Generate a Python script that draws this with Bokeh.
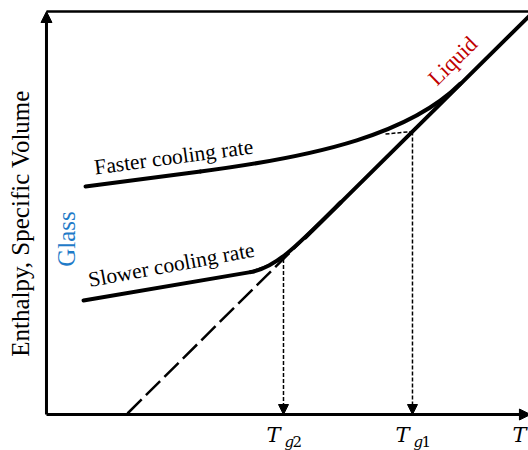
import math
from bokeh.plotting import figure
from bokeh.models import Range1d, Arrow, NormalHead, ColumnDataSource
from bokeh.core.properties import value
from bokeh.embed import file_html
from bokeh.resources import INLINE

# ---- data (arbitrary temperature / enthalpy units) ----
# equilibrium liquid line (dashed = supercooled extrapolation)
liquid_dash_x = [16.8, 56.4]
liquid_dash_y = [0.25, 47.2]
liquid_x = [53.7, 100.5]
liquid_y = [43.9, 99.3]

# faster cooling: glass branch + transition (cubic bezier)
fast_glass_x = [8.1, 31.95]
fast_glass_y = [56.6, 60.3]
fast_bez = dict(x0=[31.95], y0=[60.3], cx0=[56.85], cy0=[64.17],
                cx1=[75.52], cy1=[69.78], x1=[85.89], y1=[82.13])
fast_dot_x = [70.33, 75.93]
fast_dot_y = [69.6, 70.22]

# slower cooling
slow_glass_x = [7.68, 42.32]
slow_glass_y = [28.29, 35.33]
slow_bez = dict(x0=[42.32], y0=[35.33], cx0=[47.51], cy0=[36.38],
                cx1=[51.66], cy1=[41.51], x1=[61.0], y1=[52.61])
slow_dot_x = [42.95, 49.17]
slow_dot_y = [35.73, 38.56]

# glass transition temperatures and their enthalpies
tg_values = [49.17, 75.93]
tg_enthalpy = [38.56, 70.22]
tg_subscripts = ["2", "1"]
axis_end_x = 100.4
axis_top_y = 100.0

# ---- figure ----
p = figure(width=528, height=450, x_range=Range1d(-9.54, 100.0),
           y_range=Range1d(-8.93, 102.73), x_axis_type=None, y_axis_type=None,
           min_border=0, toolbar_location=None, output_backend="svg")
p.outline_line_color = None
p.background_fill_color = "white"

# frame lines
p.line([0, 101], [axis_top_y, axis_top_y], line_color="black", line_width=2.5)
p.add_layout(Arrow(end=NormalHead(size=11, fill_color="black", line_color="black", line_width=1),
                   x_start=0, y_start=0, x_end=0, y_end=axis_top_y,
                   line_color="black", line_width=3))
p.add_layout(Arrow(end=NormalHead(size=11, fill_color="black", line_color="black", line_width=1),
                   x_start=0, y_start=0, x_end=axis_end_x, y_end=0,
                   line_color="black", line_width=3))

# liquid line
p.line(liquid_dash_x, liquid_dash_y, line_color="black", line_width=2.5, line_dash="20 6")
p.line(liquid_x, liquid_y, line_color="black", line_width=4, line_cap="round")

# glass branches
for gx, gy, bz in [(fast_glass_x, fast_glass_y, fast_bez), (slow_glass_x, slow_glass_y, slow_bez)]:
    p.line(gx, gy, line_color="black", line_width=4, line_cap="round")
    p.bezier(source=ColumnDataSource(bz), x0="x0", y0="y0", x1="x1", y1="y1",
             cx0="cx0", cy0="cy0", cx1="cx1", cy1="cy1",
             line_color="black", line_width=4, line_cap="round")

# dotted construction lines
p.line(fast_dot_x, fast_dot_y, line_color="black", line_width=1.5, line_dash="4 2")
p.line(slow_dot_x, slow_dot_y, line_color="black", line_width=1.5, line_dash="4 2")
for tx, ty in zip(tg_values, tg_enthalpy):
    p.add_layout(Arrow(end=NormalHead(size=10, fill_color="black", line_color="black", line_width=1),
                       x_start=tx, y_start=ty, x_end=tx, y_end=0,
                       line_color="black", line_width=1.5, line_dash="4 2"))

serif = value("Liberation Serif")

# curve labels
p.text(x=[26.59], y=[61.91], text=["Faster cooling rate"], angle=math.radians(7.6),
       x_offset=-1, y_offset=-8,
       text_align="center", text_baseline="alphabetic", text_font=serif,
       text_font_size=value("21.5px"), text_color="black")
p.text(x=[26.22], y=[35.14], text=["Slower cooling rate"], angle=math.radians(10.5),
       x_offset=-1.5, y_offset=-8,
       text_align="center", text_baseline="alphabetic", text_font=serif,
       text_font_size=value("21.5px"), text_color="black")
p.text(x=[84.54], y=[87.04], text=["Liquid"], angle=math.radians(44.7),
       x_offset=-1.5, y_offset=-3,
       text_align="center", text_baseline="alphabetic", text_font=serif,
       text_font_size=value("22px"), text_color="#C00000")
p.text(x=[6.02], y=[43.55], text=["Glass"], angle=math.pi / 2, x_offset=-9,
       text_align="center", text_baseline="alphabetic", text_font=serif,
       text_font_size=value("25px"), text_color="#1F7BC8")
p.text(x=[-3.42], y=[47.4], text=["Enthalpy, Specific Volume"], angle=math.pi / 2,
       x_offset=-9,
       text_align="center", text_baseline="alphabetic", text_font=serif,
       text_font_size=value("25px"), text_color="black")

# tick labels on the temperature axis
math_font = value("DejaVu Serif")
p.text(x=tg_values, y=[0, 0], text=["T", "T"], x_offset=-17, y_offset=20,
       text_align="left", text_baseline="alphabetic", text_font=math_font,
       text_font_style="italic", text_font_size=value("21px"), text_color="black")
p.text(x=tg_values, y=[0, 0], text=["g", "g"], x_offset=1, y_offset=27,
       text_align="left", text_baseline="alphabetic", text_font=math_font,
       text_font_style="italic", text_font_size=value("15px"), text_color="black")
p.text(x=tg_values, y=[0, 0], text=tg_subscripts, x_offset=9, y_offset=27,
       text_align="left", text_baseline="alphabetic", text_font=math_font,
       text_font_size=value("15px"), text_color="black")
p.text(x=[axis_end_x], y=[0], text=["T"], x_offset=-18, y_offset=20,
       text_align="left", text_baseline="alphabetic", text_font=math_font,
       text_font_style="italic", text_font_size=value("21px"), text_color="black")

open("out.html", "w").write(file_html(p, INLINE))
